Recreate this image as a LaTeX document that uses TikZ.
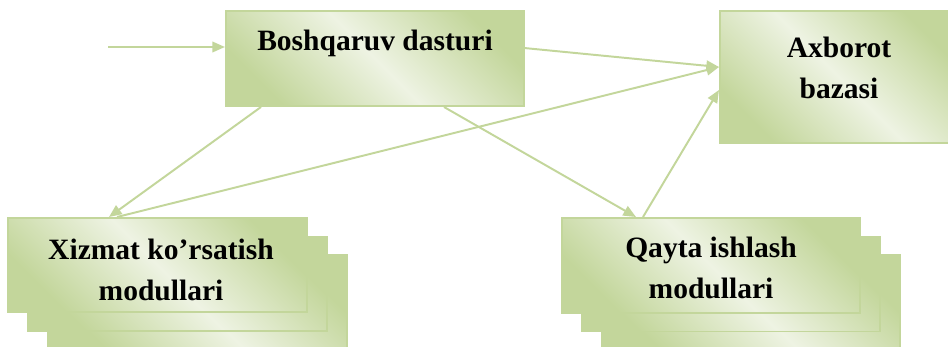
\documentclass[tikz,border=0pt]{standalone}
\usepackage{fontspec}
\setmainfont{Liberation Serif}
\usetikzlibrary{arrows.meta}
\definecolor{olivedark}{HTML}{C3D69B}
\definecolor{olivepale}{HTML}{EEF3E3}

\begin{document}
\begin{tikzpicture}[x=0.025cm, y=-0.025cm,
    modbox/.style={draw=olivedark, line width=1.4pt, top color=olivedark,
        bottom color=olivedark, middle color=olivepale, shading angle=-45,
        inner sep=0pt},
    boxtext/.style={font=\bfseries\fontsize{21}{29}\selectfont, align=center},
    link/.style={draw=olivedark, line width=1.4pt,
        -{Triangle[length=9pt,width=7.5pt]}}]
    \useasboundingbox (0,0) rectangle (948,347);
    \clip (0,0) rectangle (948,347);
    % Boshqaruv
    \node[modbox, minimum width=7.45cm, minimum height=2.375cm] (bosh) at (375,58.5) {};
    \node[boxtext] (bosh-txt) at (375,43) {Boshqaruv dasturi};
    % Axborot bazasi
    \node[modbox, minimum width=5.95cm, minimum height=3.3cm] (axb) at (839,77) {};
    \node[boxtext] (axb-txt) at (839,68) {Axborot\\bazasi};
    % Xizmat (ustma-ust)
    \node[modbox, minimum width=7.475cm, minimum height=2.35cm] (xiz3) at (197.5,302) {};
    \node[modbox, minimum width=7.475cm, minimum height=2.35cm] (xiz2) at (177.5,284) {};
    \node[modbox, minimum width=7.475cm, minimum height=2.35cm] (xiz) at (157.5,265) {};
    \node[boxtext] (xiz-txt) at (161,270) {Xizmat ko’rsatish\\modullari};
    % Qayta ishlash
    \node[modbox, minimum width=7.45cm, minimum height=2.375cm] (qay3) at (751,302) {};
    \node[modbox, minimum width=7.45cm, minimum height=2.375cm] (qay2) at (731,284) {};
    \node[modbox, minimum width=7.45cm, minimum height=2.375cm] (qay) at (711,265.5) {};
    \node[boxtext] (qay-txt) at (711,268) {Qayta ishlash\\modullari};
    % Bog'lanishlar
    \coordinate (feed) at (108,47);
    \draw[link] (feed) -- (feed -| bosh.west);
    \draw[link] ([yshift=0.26cm]bosh.east) -- ([yshift=0.25cm]axb.west);
    \draw[link] ([xshift=0.9cm]bosh.south west) -- ([xshift=2.55cm]xiz.north west);
    \draw[link] ([xshift=2.75cm]xiz.north west) -- ([yshift=0.25cm]axb.west);
    \draw[link] ([xshift=-2.025cm]bosh.south east) -- ([xshift=1.875cm]qay.north west);
    \draw[link] ([xshift=2.05cm]qay.north west) -- ([yshift=-0.325cm]axb.west);
\end{tikzpicture}
\end{document}
